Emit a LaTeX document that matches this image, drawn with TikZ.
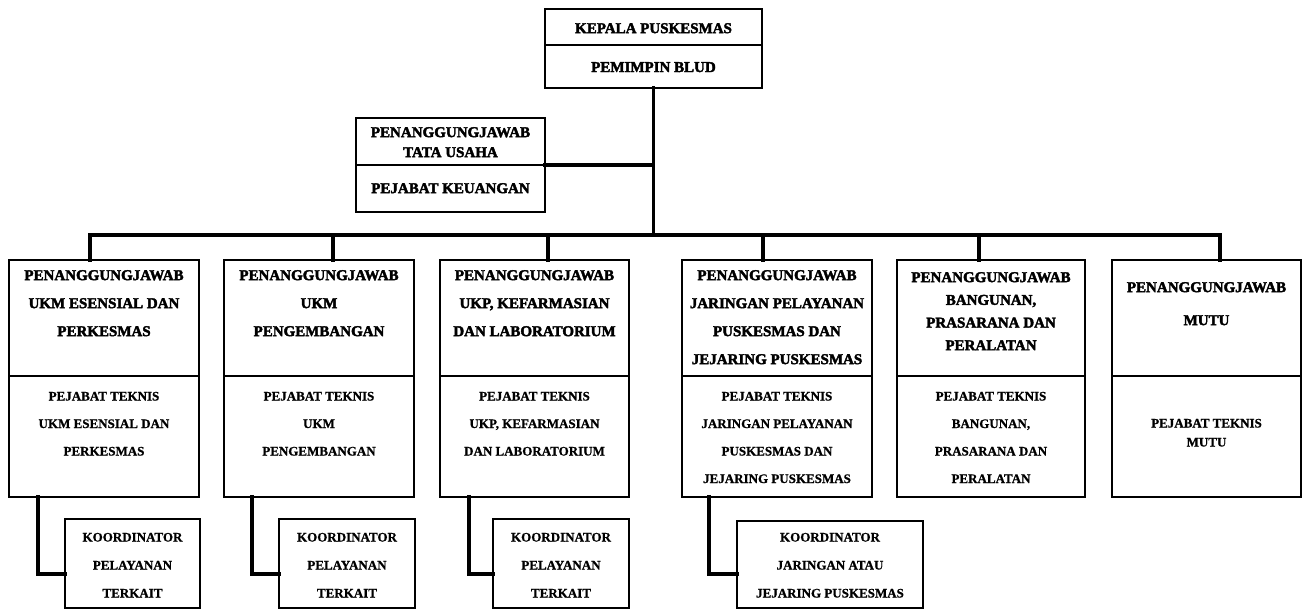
\documentclass[tikz,border=0pt]{standalone}
\usepackage{fontspec}
\setmainfont{Liberation Serif}
\newfontfamily\heavy{Liberation Serif}[BoldFeatures={FakeBold=2.6}]
\newfontfamily\medium{Liberation Serif}[BoldFeatures={FakeBold=0.8}]
\begin{document}
\begin{tikzpicture}[x=1pt,y=-1pt,
  bx/.style={draw, line width=1.8pt, inner sep=0pt, outer sep=0pt, anchor=north west},
  conn/.style={line width=3.2pt, line cap=rect},
  toptxt/.style={align=center, inner sep=0pt, anchor=north, font=\heavy\bfseries\fontsize{15}{#1}\selectfont},
  toptxt/.default=28,
  lowtxt/.style={align=center, inner sep=0pt, anchor=north, font=\medium\bfseries\fontsize{13}{#1}\selectfont},
  lowtxt/.default=27.5]
\useasboundingbox (0,0) rectangle (1306,609);
\fill[white] (0,0) rectangle (1306,609);

% top
\node[bx, minimum width=217pt, minimum height=36pt] (kpU) at (545,9) {};
\node[bx, minimum width=217pt, minimum height=43pt] (kpL) at (545,45) {};
\node[toptxt] (kpUt) at (653.5,23) {KEPALA PUSKESMAS};
\node[toptxt] (kpLt) at (653.5,62) {PEMIMPIN BLUD};

% tata usaha
\node[bx, minimum width=189pt, minimum height=47pt] (tuU) at (356,118) {};
\node[bx, minimum width=189pt, minimum height=47pt] (tuL) at (356,165) {};
\node[toptxt=20] (tuUt) at (450.5,127) {PENANGGUNGJAWAB\\TATA USAHA};
\node[toptxt] (tuLt) at (450.5,183) {PEJABAT KEUANGAN};

% second row boxes
\node[bx, minimum width=190pt, minimum height=116pt] (b1U) at (9,260) {};
\node[bx, minimum width=190pt, minimum height=121pt] (b1L) at (9,376) {};
\node[bx, minimum width=190pt, minimum height=116pt] (b2U) at (224,260) {};
\node[bx, minimum width=190pt, minimum height=121pt] (b2L) at (224,376) {};
\node[bx, minimum width=189pt, minimum height=116pt] (b3U) at (440,260) {};
\node[bx, minimum width=189pt, minimum height=121pt] (b3L) at (440,376) {};
\node[bx, minimum width=190pt, minimum height=116pt] (b4U) at (682,260) {};
\node[bx, minimum width=190pt, minimum height=121pt] (b4L) at (682,376) {};
\node[bx, minimum width=188pt, minimum height=116pt] (b5U) at (897,260) {};
\node[bx, minimum width=188pt, minimum height=121pt] (b5L) at (897,376) {};
\node[bx, minimum width=189pt, minimum height=116pt] (b6U) at (1112,260) {};
\node[bx, minimum width=189pt, minimum height=121pt] (b6L) at (1112,376) {};

\node[toptxt] (b1Ut) at (104,270) {PENANGGUNGJAWAB\\UKM ESENSIAL DAN\\PERKESMAS};
\node[lowtxt] (b1Lt) at (104,391.7) {PEJABAT TEKNIS\\UKM ESENSIAL DAN\\PERKESMAS};
\node[toptxt] (b2Ut) at (319,270) {PENANGGUNGJAWAB\\UKM\\PENGEMBANGAN};
\node[lowtxt] (b2Lt) at (319,391.7) {PEJABAT TEKNIS\\UKM\\PENGEMBANGAN};
\node[toptxt] (b3Ut) at (534.5,270) {PENANGGUNGJAWAB\\UKP, KEFARMASIAN\\DAN LABORATORIUM};
\node[lowtxt] (b3Lt) at (534.5,391.7) {PEJABAT TEKNIS\\UKP, KEFARMASIAN\\DAN LABORATORIUM};
\node[toptxt] (b4Ut) at (777,270) {PENANGGUNGJAWAB\\JARINGAN PELAYANAN\\PUSKESMAS DAN\\JEJARING PUSKESMAS};
\node[lowtxt] (b4Lt) at (777,391.7) {PEJABAT TEKNIS\\JARINGAN PELAYANAN\\PUSKESMAS DAN\\JEJARING PUSKESMAS};
\node[toptxt=22.7] (b5Ut) at (991,272) {PENANGGUNGJAWAB\\BANGUNAN,\\PRASARANA DAN\\PERALATAN};
\node[lowtxt] (b5Lt) at (991,391.7) {PEJABAT TEKNIS\\BANGUNAN,\\PRASARANA DAN\\PERALATAN};
\node[toptxt=33] (b6Ut) at (1206.5,282) {PENANGGUNGJAWAB\\MUTU};
\node[lowtxt=19] (b6Lt) at (1206.5,418.7) {PEJABAT TEKNIS\\MUTU};

% koordinator boxes
\node[bx, minimum width=135pt, minimum height=89pt] (k1) at (65,519) {};
\node[bx, minimum width=136pt, minimum height=89pt] (k2) at (279,519) {};
\node[bx, minimum width=136pt, minimum height=89pt] (k3) at (493,519) {};
\node[bx, minimum width=186pt, minimum height=87pt] (k4) at (737,521) {};
\node[lowtxt=28] (k1t) at (132.5,532.7) {KOORDINATOR\\PELAYANAN\\TERKAIT};
\node[lowtxt=28] (k2t) at (347,532.7) {KOORDINATOR\\PELAYANAN\\TERKAIT};
\node[lowtxt=28] (k3t) at (561,532.7) {KOORDINATOR\\PELAYANAN\\TERKAIT};
\node[lowtxt=28] (k4t) at (830,532.7) {KOORDINATOR\\JARINGAN ATAU\\JEJARING PUSKESMAS};

% connectors
\coordinate (busL) at (90,235);
\coordinate (busR) at (1220,235);
\coordinate (busM) at (kpL.south |- busL);
\coordinate (d2) at (333,235);
\coordinate (d3) at (548,235);
\coordinate (d4) at (763,235);
\coordinate (d5) at (979,235);
\draw[conn] (kpL.south) -- (busM);
\draw[conn] (tuU.south east) -- (tuU.south east -| kpL.south);
\draw[conn] (busL) -- (busR);
\draw[conn] (busL) -- (busL |- b1U.north);
\draw[conn] (d2) -- (d2 |- b2U.north);
\draw[conn] (d3) -- (d3 |- b3U.north);
\draw[conn] (d4) -- (d4 |- b4U.north);
\draw[conn] (d5) -- (d5 |- b5U.north);
\draw[conn] (busR) -- (busR |- b6U.north);

\coordinate (e1) at (38,574);
\coordinate (e2) at (252,574);
\coordinate (e3) at (469,574);
\coordinate (e4) at (709,574);
\draw[conn] (e1 |- b1L.south) -- (e1) -- (k1.west |- e1);
\draw[conn] (e2 |- b2L.south) -- (e2) -- (k2.west |- e2);
\draw[conn] (e3 |- b3L.south) -- (e3) -- (k3.west |- e3);
\draw[conn] (e4 |- b4L.south) -- (e4) -- (k4.west |- e4);
\end{tikzpicture}
\end{document}
